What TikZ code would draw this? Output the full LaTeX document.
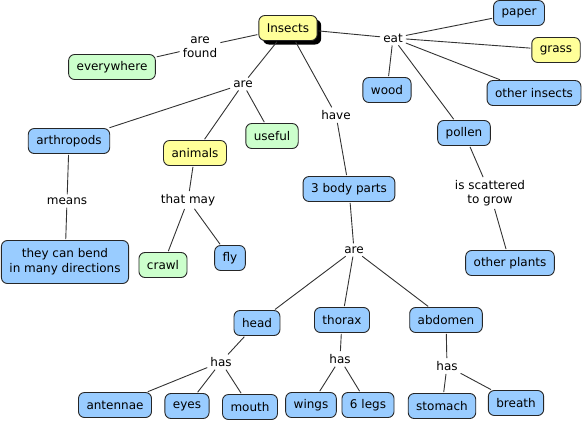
\documentclass[tikz,border=0pt]{standalone}
\usepackage{fontspec}
\setmainfont{DejaVu Sans}
\usetikzlibrary{shadows}
\definecolor{cblue}{RGB}{153,204,255}
\definecolor{cyellow}{RGB}{255,255,153}
\definecolor{cgreen}{RGB}{204,255,204}

\begin{document}
\begin{tikzpicture}[x=1pt, y=-1pt,
  c/.style={draw=black!85, line width=0.9pt, rounded corners=6pt, align=center,
    inner xsep=8pt, inner ysep=3pt, minimum height=25pt, font=\fontsize{12}{14}\selectfont},
  cb/.style={c, fill=cblue},
  cy/.style={c, fill=cyellow},
  cg/.style={c, fill=cgreen},
  l/.style={inner sep=2pt, align=center, font=\fontsize{12}{14}\selectfont},
  e/.style={draw=black!80, line width=0.9pt, shorten >=1pt, shorten <=1pt}]
  \useasboundingbox (0,0) rectangle (583,421);
  % concepts
  \node[cy, drop shadow={shadow xshift=4pt, shadow yshift=-4pt, opacity=1, fill=black}]
                        (ins)  at (288,28)  {Insects};
  \node[cg] (every) at (112,67)  {everywhere};
  \node[cb] (paper) at (519,13)  {paper};
  \node[cy] (grass) at (556,50)  {grass};
  \node[cb] (wood)  at (387,90)  {wood};
  \node[cb] (oins)  at (534,93)  {other insects};
  \node[cb] (pol)   at (464,133) {pollen};
  \node[cb] (arth)  at (69,141)  {arthropods};
  \node[cy] (anim)  at (195,153) {animals};
  \node[cg] (use)   at (272,136) {useful};
  \node[cb] (body)  at (349,189) {3 body parts};
  \node[cb, minimum height=43pt, font=\fontsize{12}{15}\selectfont]
            (bend)  at (65,262)  {they can bend\\in many directions};
  \node[cg] (crawl) at (163,265) {crawl};
  \node[cb] (fly)   at (230,258) {fly};
  \node[cb] (oplt)  at (510,263) {other plants};
  \node[cb] (head)  at (257,323) {head};
  \node[cb] (thor)  at (342,320) {thorax};
  \node[cb] (abd)   at (446,320) {abdomen};
  \node[cb] (ant)   at (115,405) {antennae};
  \node[cb] (eyes)  at (187,406) {eyes};
  \node[cb] (mouth) at (250,407) {mouth};
  \node[cb] (wings) at (311,405) {wings};
  \node[cb] (legs)  at (368,405) {6 legs};
  \node[cb] (stom)  at (442,406) {stomach};
  \node[cb] (brea)  at (516,403) {breath};
  % linking phrases
  \node[l] (found) at (200,47)  {are\\found};
  \node[l] (eat)   at (393,38)  {eat};
  \node[l] (are)   at (243,84)  {are};
  \node[l] (have)  at (336,115) {have};
  \node[l] (means) at (67,201)  {means};
  \node[l] (may)   at (188,200) {that may};
  \node[l] (scat)  at (490,193) {is scattered\\to grow};
  \node[l] (are2)  at (354,250) {are};
  \node[l] (has1)  at (221,362) {has};
  \node[l] (has2)  at (340,359) {has};
  \node[l] (has3)  at (447,366) {has};
  % links
  \draw[e] (ins) -- (found);  \draw[e] (found) -- (every);
  \draw[e] (ins) -- (eat);
  \foreach \t in {paper,grass,wood,oins,pol} \draw[e] (eat) -- (\t);
  \draw[e] (ins) -- (are);
  \foreach \t in {arth,anim,use} \draw[e] (are) -- (\t);
  \draw[e] (ins) -- (have);   \draw[e] (have) -- (body);
  \draw[e] (arth) -- (means); \draw[e] (means) -- (bend);
  \draw[e] (anim) -- (may);
  \foreach \t in {crawl,fly} \draw[e] (may) -- (\t);
  \draw[e] (pol) -- (scat);   \draw[e] (scat) -- (oplt);
  \draw[e] (body) -- (are2);
  \foreach \t in {head,thor,abd} \draw[e] (are2) -- (\t);
  \draw[e] (head) -- (has1);
  \foreach \t in {ant,eyes,mouth} \draw[e] (has1) -- (\t);
  \draw[e] (thor) -- (has2);
  \foreach \t in {wings,legs} \draw[e] (has2) -- (\t);
  \draw[e] (abd) -- (has3);
  \foreach \t in {stom,brea} \draw[e] (has3) -- (\t);
\end{tikzpicture}
\end{document}
